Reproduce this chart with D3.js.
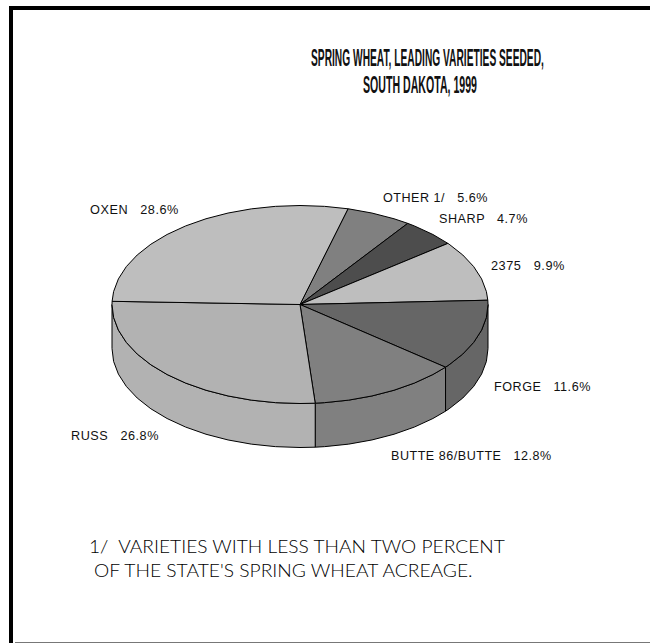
<!DOCTYPE html>
<html>
<head>
<meta charset="utf-8">
<script src="https://cdn.jsdelivr.net/npm/d3@7"></script>
<style>
html,body{margin:0;padding:0;background:#fff}
svg{display:block}
text{white-space:pre}
</style>
</head>
<body>
<script>
// DATA
const varieties = ["OTHER 1/", "SHARP", "2375", "FORGE", "BUTTE 86/BUTTE", "RUSS", "OXEN"];
const shares = [5.6, 4.7, 9.9, 11.6, 12.8, 26.8, 28.6];
const sliceColors = ["#808080", "#4d4d4d", "#bebebe", "#666666", "#808080", "#b2b2b2", "#bebebe"];
const titleLines = ["SPRING WHEAT, LEADING VARIETIES SEEDED,", "SOUTH DAKOTA, 1999"];
const noteLines = ["1/  VARIETIES WITH LESS THAN TWO PERCENT", "OF THE STATE'S SPRING WHEAT ACREAGE."];

// LAYOUT
const W = 650, H = 643;
const cx0 = 112, cx1 = 488, cy0 = 205.5, cy1 = 403.5, depth = 44;
const startDeg = 14.8, stepDeg = 7.5;
const labelBoxes = [[383,202,105],[439,223,89],[491,270,74],[494,391,97],[391,460,161],[71,440,88],[90,214,89]];
const titleBoxes = [[311,66,233],[363,93,114]];
const noteBoxes = [[89,553,416],[94,577,379]];

const svg = d3.select("body").append("svg").attr("width", W).attr("height", H);

// frame
svg.append("rect").attr("x",9).attr("y",6).attr("width",W-9).attr("height",4).attr("fill","#000");
svg.append("rect").attr("x",9).attr("y",6).attr("width",4).attr("height",H-6).attr("fill","#000");
svg.append("rect").attr("x",15).attr("y",642).attr("width",W-15).attr("height",1).attr("fill","#777");

const x = d3.scaleLinear().domain([-1,1]).range([cx0,cx1]);
const y = d3.scaleLinear().domain([-1,1]).range([cy0,cy1]);
const rad = d => d*Math.PI/180;
const pt = a => [x(Math.sin(a)), y(-Math.cos(a))];

const s = rad(startDeg);
const arcs = d3.pie().sort(null).value(d=>d).startAngle(s).endAngle(s+2*Math.PI)(shares);

const step = rad(stepDeg);
function samples(a0,a1){
  const out=[a0];
  let k=Math.ceil(a0/step+1e-6);
  while(k*step<a1-1e-6){out.push(k*step);k++;}
  out.push(a1);
  return out;
}
const line = d3.line().curve(d3.curveLinearClosed);

// walls of the visible front half
const g = svg.append("g").attr("stroke","#000").attr("stroke-width",1).attr("stroke-linejoin","round");
arcs.forEach((d,i)=>{
  const a0=Math.max(d.startAngle,Math.PI/2), a1=Math.min(d.endAngle,3*Math.PI/2);
  if(a1<=a0) return;
  const top=samples(a0,a1).map(pt);
  const bottom=top.map(p=>[p[0],p[1]+depth]).reverse();
  g.append("path").attr("d",line(top.concat(bottom))).attr("fill",sliceColors[i]);
});

// top face
arcs.forEach((d,i)=>{
  const pts=[[x(0),y(0)]].concat(samples(d.startAngle,d.endAngle).map(pt));
  g.append("path").attr("d",line(pts)).attr("fill",sliceColors[i]);
});

// slice labels
svg.append("g").selectAll("text").data(varieties).join("text")
  .attr("font-family","'Liberation Sans',Arial,sans-serif").attr("font-size",12).attr("letter-spacing",0.5).attr("fill","#111")
  .text((d,i)=>d+"   "+shares[i].toFixed(1)+"%")
  .call(fit, labelBoxes);

// title
svg.append("g").selectAll("text").data(titleLines).join("text")
  .attr("font-family","'Liberation Sans Narrow','Liberation Sans',sans-serif").attr("font-weight","bold")
  .attr("font-size",24).attr("fill","#111")
  .text(d=>d)
  .call(fit, titleBoxes);

// footnote
svg.append("g").selectAll("text").data(noteLines).join("text")
  .attr("font-family","Lato,'Open Sans',sans-serif").attr("font-weight",300).attr("font-size",18.5).attr("fill","#000")
  .text(d=>d)
  .call(fit, noteBoxes);

// squeeze each text horizontally into its box
function fit(sel, boxes){
  sel.each(function(d,i){
    const b=boxes[i], k=b[2]/this.getComputedTextLength();
    d3.select(this).attr("transform",`translate(${b[0]},${b[1]}) scale(${k},1)`);
  });
}
</script>
</body>
</html>
